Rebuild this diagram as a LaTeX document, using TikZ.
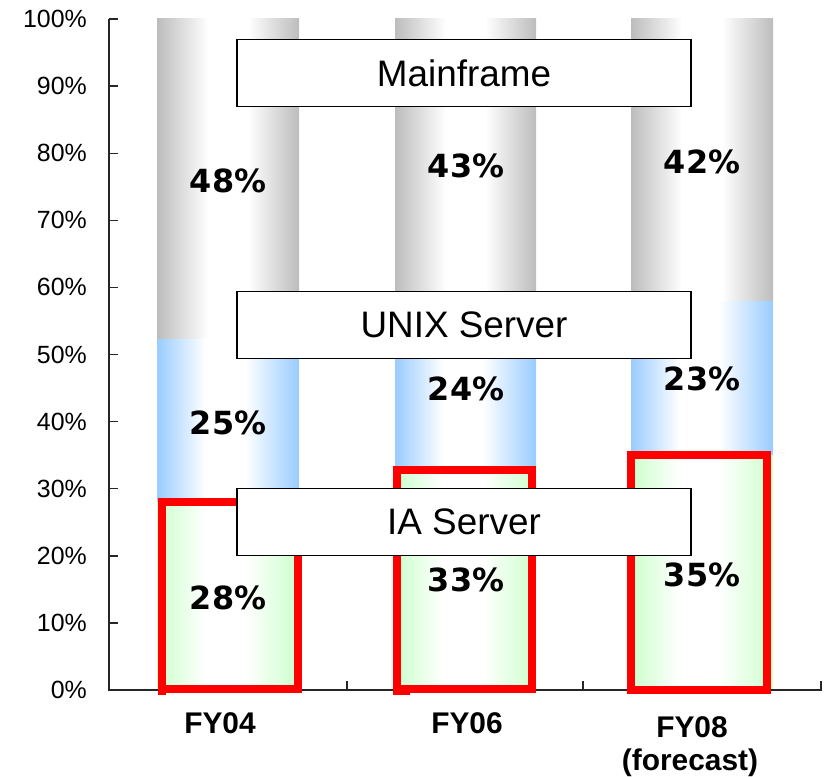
\documentclass[tikz,border=0pt]{standalone}
\usepackage{fontspec}
\setmainfont{Liberation Sans}
\newfontfamily\pctfont{DejaVu Sans}

% horizontal "cylinder" fills: coloured edges, white middle
\pgfdeclarehorizontalshading{mfshade}{100bp}{rgb(0bp)=(0.74,0.74,0.74); rgb(25bp)=(0.74,0.74,0.74); rgb(43bp)=(1,1,1); rgb(57bp)=(1,1,1); rgb(75bp)=(0.74,0.74,0.74); rgb(100bp)=(0.74,0.74,0.74)}
\pgfdeclarehorizontalshading{uxshade}{100bp}{rgb(0bp)=(0.6,0.8,1); rgb(25bp)=(0.6,0.8,1); rgb(42bp)=(1,1,1); rgb(56bp)=(1,1,1); rgb(75bp)=(0.6,0.8,1); rgb(100bp)=(0.6,0.8,1)}
\pgfdeclarehorizontalshading{iashade}{100bp}{rgb(0bp)=(0.8,1,0.8); rgb(25bp)=(0.8,1,0.8); rgb(42bp)=(1,1,1); rgb(56bp)=(1,1,1); rgb(75bp)=(0.8,1,0.8); rgb(100bp)=(0.8,1,0.8)}

\begin{document}
\begin{tikzpicture}[x=1bp,y=-1bp,
  axisline/.style={draw=black!85,line width=1.4bp},
  redframe/.style={draw=red,line width=8bp,miter limit=10},
  legendbox/.style={draw=black,line width=1.5bp,fill=white,minimum width=454bp,minimum height=67bp,inner sep=0pt,
    font=\fontsize{37}{37}\selectfont},
  pct/.style={font=\pctfont\bfseries\fontsize{32}{32}\selectfont,inner sep=0pt},
  ytick/.style={anchor=east,inner sep=0pt,font=\fontsize{25}{25}\selectfont},
  cat/.style={anchor=base,inner sep=0pt,font=\bfseries\fontsize{30}{33}\selectfont}]
\useasboundingbox (0,0) rectangle (824,777);

% stacked bars
\shade[shading=mfshade] (157,19) rectangle (299,339);
\shade[shading=uxshade] (157,339) rectangle (299,502);
\shade[shading=iashade] (157,502) rectangle (299,690);

\shade[shading=mfshade] (395,19) rectangle (536,308);
\shade[shading=uxshade] (395,308) rectangle (536,470);
\shade[shading=iashade] (395,470) rectangle (536,690);

\shade[shading=mfshade] (631,19) rectangle (773,301);
\shade[shading=uxshade] (631,301) rectangle (773,455);
\shade[shading=iashade] (631,455) rectangle (773,690);

% axes
\coordinate (ytop) at (109,19);
\coordinate (origin) at (109,690);
\coordinate (xend) at (822,690);
\draw[axisline] (ytop) -- (origin) -- (xend);
\foreach \k in {0,...,10}
  \draw[axisline] (109,{690-67.1*\k}) -- ++(9,0);
\foreach \xx in {347,583,821}
  \draw[axisline] (\xx,690) -- ++(0,-9);

% y-axis labels
\foreach \k in {0,...,10}
  \node[ytick] (yl\k) at (87,{690-67.1*\k}) {\the\numexpr\k*10\relax\%};

% IA server frames
\draw[redframe] (162,695) -- (162,502) -- (298,502) -- (298,689) -- (158,689);
\draw[redframe] (397,695) -- (397,470) -- (532,470) -- (532,689) -- (393,689);
\fill[red] (393,687) rectangle (410,695);
\draw[redframe] (631,690) -- (631,455) -- (767,455) -- (767,690) -- cycle;

% percentage labels
\node[pct] (fy04mf) at (228,181) {48\%};
\node[pct] (fy04ux) at (228,423) {25\%};
\node[pct] (fy04ia) at (228,598) {28\%};
\node[pct] (fy06mf) at (466,166) {43\%};
\node[pct] (fy06ux) at (466,389) {24\%};
\node[pct] (fy06ia) at (466,580) {33\%};
\node[pct] (fy08mf) at (702,162) {42\%};
\node[pct] (fy08ux) at (702,379) {23\%};
\node[pct] (fy08ia) at (702,575) {35\%};

% series legend boxes
\node[legendbox] (mainframe) at (464,73) {Mainframe};
\node[legendbox] (unix) at (464,325) {UNIX Server};
\node[legendbox] (ia) at (464,522) {IA Server};

% category labels
\node[cat] (c04) at (220,733) {FY04};
\node[cat] (c06) at (467,733) {FY06};
\node[cat] (c08) at (692,737) {FY08};
\node[cat] (c08f) at (690,770) {(forecast)};
\end{tikzpicture}
\end{document}
